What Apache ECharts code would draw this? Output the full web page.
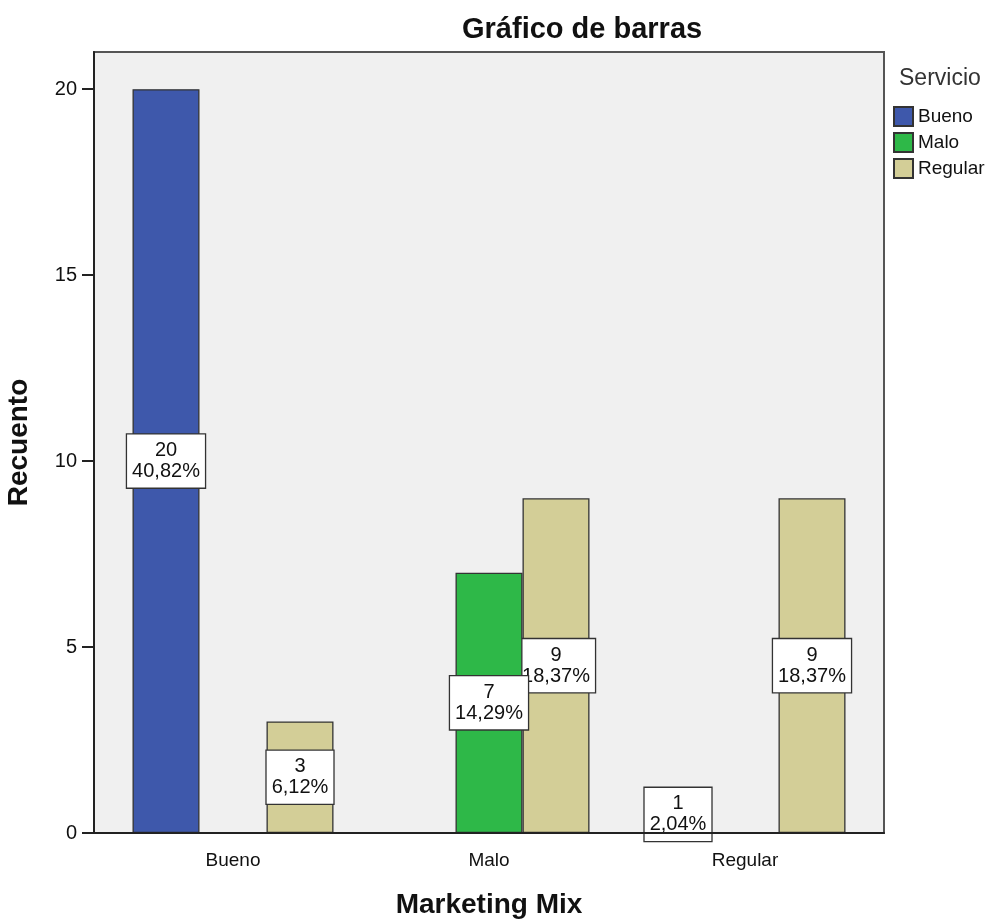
<!DOCTYPE html>
<html>
<head>
<meta charset="utf-8">
<script src="https://cdn.jsdelivr.net/npm/echarts@6/dist/echarts.min.js"></script>
<style>
  html, body { margin: 0; padding: 0; background: #fff; }
  #chart { width: 990px; height: 922px; }
</style>
</head>
<body>
<div id="chart"></div>
<script>
// categorías del eje X (Marketing Mix)
const categories = ['Bueno', 'Malo', 'Regular'];
// recuentos por Servicio (null = sin barra)
const bueno = [20, null, 1];
const malo = [null, 7, null];
const regular = [3, 9, 9];
const yTicks = [0, 5, 10, 15, 20];
const total = 49;

const colors = { Bueno: '#3e58ab', Malo: '#2eb848', Regular: '#d3ce97' };
const FONT = 'Liberation Sans';

const fmtLabel = p => {
    const pct = (p.value / total * 100).toFixed(2).replace('.', ',');
    return p.value + '\n' + pct + '%';
};

const makeSeries = (name, data, z) => ({
    name: name,
    type: 'bar',
    xAxisIndex: 1,
    yAxisIndex: 1,
    z: z,
    data: data,
    barWidth: 67,
    barGap: '0%',
    itemStyle: { color: colors[name], borderColor: '#333', borderWidth: 1.3 },
    label: {
        show: true,
        position: 'inside',
        formatter: fmtLabel,
        color: '#111',
        fontFamily: FONT,
        fontSize: 20,
        lineHeight: 21,
        backgroundColor: '#fff',
        borderColor: '#333',
        borderWidth: 1.3,
        padding: [6, 5, 5, 5]
    },
    emphasis: { disabled: true }
});

let myChart = echarts.init(document.getElementById('chart'));
let option = {
    animation: false,
    title: [{
        text: 'Gráfico de barras',
        left: 457,
        top: 10,
        textStyle: { fontFamily: FONT, fontSize: 29, fontWeight: 'bold', color: '#111' }
    }, {
        text: 'Servicio',
        left: 894,
        top: 62,
        textStyle: { fontFamily: FONT, fontSize: 23, fontWeight: 'normal', color: '#333' }
    }],
    legend: {
        orient: 'vertical',
        left: 893,
        top: 106,
        padding: 0,
        itemWidth: 19,
        itemHeight: 19,
        itemGap: 5,
        icon: 'rect',
        textStyle: { fontFamily: FONT, fontSize: 19, color: '#111' },
        data: ['Bueno', 'Malo', 'Regular']
    },
    grid: [{
        // marco del área de trazado
        left: 94, top: 52, right: 106, bottom: 89,
        outerBoundsMode: 'none',
        show: true,
        backgroundColor: '#f0f0f0',
        borderColor: '#555',
        borderWidth: 2
    }, {
        // área donde se ubican las categorías
        left: 105, top: 52, right: 117, bottom: 89,
        outerBoundsMode: 'none'
    }],
    xAxis: [{
        gridIndex: 0,
        type: 'category',
        data: categories,
        z: 50,
        axisLine: { lineStyle: { color: '#222', width: 2 } },
        axisTick: { show: false },
        axisLabel: { show: false },
        name: 'Marketing Mix',
        nameLocation: 'middle',
        nameGap: 58,
        nameTextStyle: { fontFamily: FONT, fontSize: 28, fontWeight: 'bold', color: '#111' }
    }, {
        gridIndex: 1,
        type: 'category',
        data: categories,
        axisLine: { show: false },
        axisTick: { alignWithLabel: true, length: 12, lineStyle: { color: '#222', width: 2 } },
        axisLabel: { fontFamily: FONT, fontSize: 19, color: '#111', margin: 18 }
    }],
    yAxis: [{
        gridIndex: 0,
        type: 'value',
        min: 0,
        max: 21,
        interval: 5,
        name: 'Recuento',
        nameLocation: 'middle',
        nameGap: 61,
        nameTextStyle: { fontFamily: FONT, fontSize: 28, fontWeight: 'bold', color: '#111' },
        axisLine: { show: true, lineStyle: { color: '#222', width: 2 } },
        axisTick: { show: true, length: 12, customValues: yTicks, lineStyle: { color: '#222', width: 2 } },
        splitLine: { show: false },
        axisLabel: {
            fontFamily: FONT, fontSize: 20, color: '#111', margin: 17,
            customValues: yTicks
        }
    }, {
        gridIndex: 1,
        type: 'value',
        min: 0,
        max: 21,
        show: false,
        splitLine: { show: false }
    }],
    series: [
        makeSeries('Bueno', bueno, 2),
        makeSeries('Malo', malo, 4),
        makeSeries('Regular', regular, 2)
    ]
};
myChart.setOption(option);
</script>
</body>
</html>
